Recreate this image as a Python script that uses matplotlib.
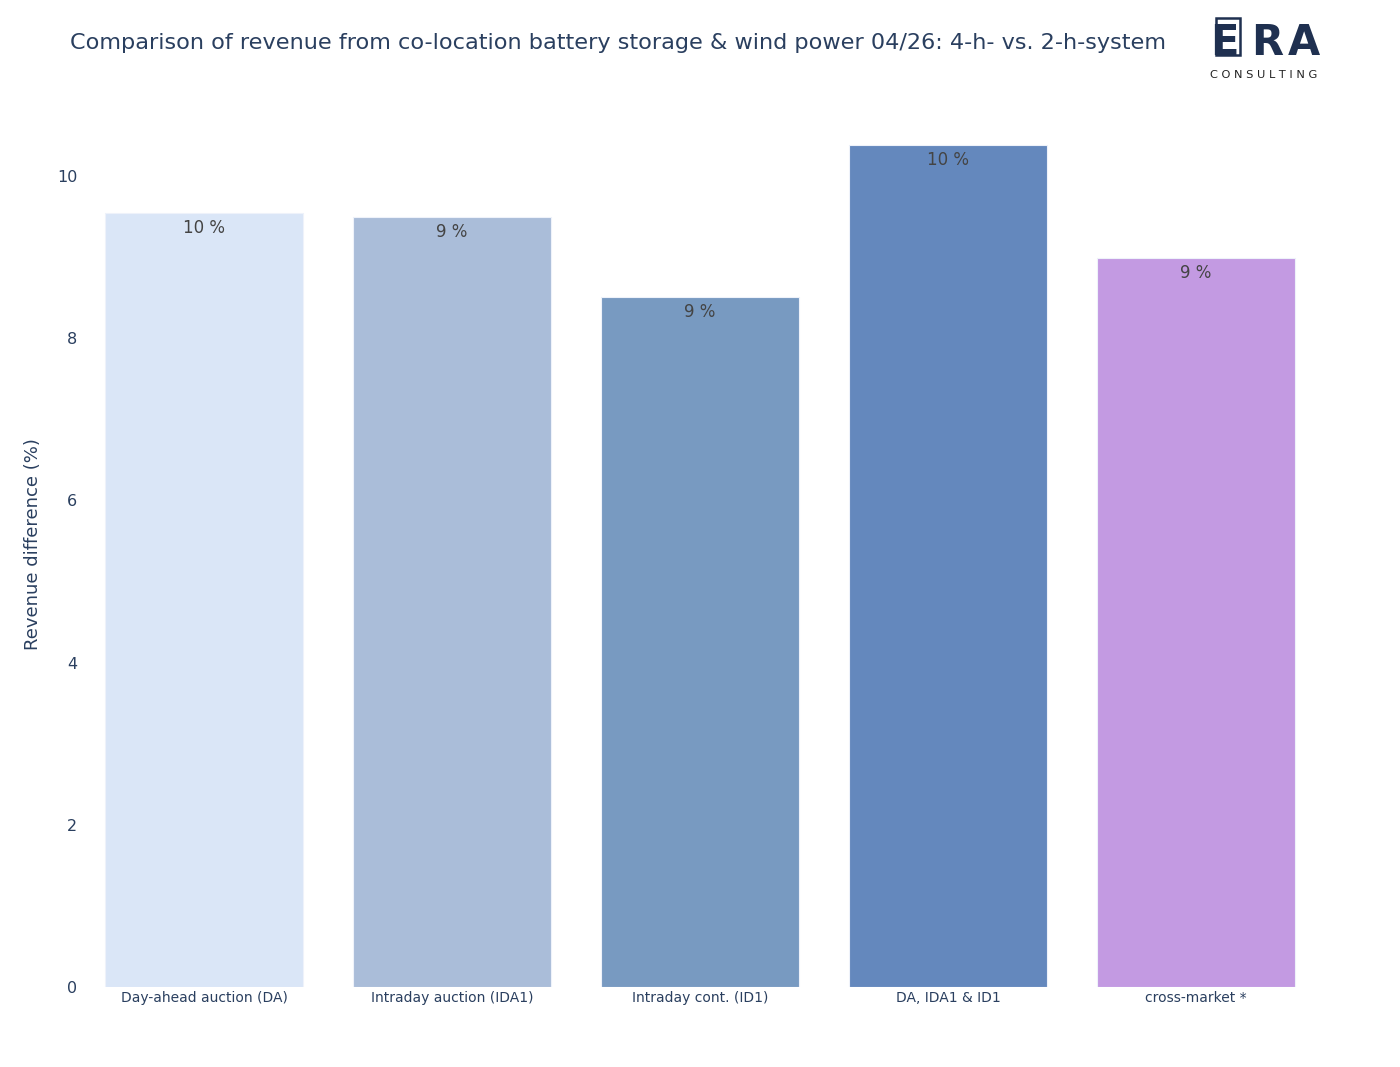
import matplotlib.pyplot as plt
from matplotlib.patches import Rectangle

categories = ["Day-ahead auction (DA)", "Intraday auction (IDA1)", "Intraday cont. (ID1)",
              "DA, IDA1 & ID1", "cross-market *"]
values = [9.54, 9.49, 8.51, 10.38, 8.99]
labels = ["10 %", "9 %", "9 %", "10 %", "9 %"]
colors = ["#dae6f7", "#aabdd9", "#789ac1", "#6488bd", "#c39ae2"]

fig = plt.figure(figsize=(14, 10.67), dpi=100)
ax = fig.add_axes([0.0571, 0.075, 0.8858, 0.8307])

bars = ax.bar(range(len(categories)), values, width=0.8, color=colors,
              edgecolor="#eef2fa", linewidth=0.8)
for b, lab in zip(bars, labels):
    ax.text(b.get_x() + b.get_width() / 2, b.get_height() - 0.07, lab,
            ha="center", va="top", fontsize=12, color="#444444")

ax.set_xlim(-0.5, len(categories) - 0.5)
ax.set_ylim(0, 10.93)
ax.set_yticks([0, 2, 4, 6, 8, 10])
ax.set_xticks(range(len(categories)))
ax.set_xticklabels(categories, fontsize=10, color="#2a3f5f")
ax.tick_params(axis="y", labelsize=11.5, colors="#2a3f5f", length=0, pad=2)
ax.tick_params(axis="x", length=0, pad=3)
for s in ax.spines.values():
    s.set_visible(False)
fig.text(0.0236, 0.49, "Revenue difference (%)", fontsize=13, color="#2a3f5f",
         rotation=90, ha="center", va="center")

fig.text(0.05, 0.96, "Comparison of revenue from co-location battery storage & wind power 04/26: 4-h- vs. 2-h-system",
         fontsize=16.1, color="#2a3f5f", ha="left", va="center")

# logo
navy = "#1f3050"
for ch, x in zip("ERA", [0.8743, 0.9050, 0.9314]):
    fig.text(x, 0.960, ch, fontsize=30, fontweight="bold", color=navy,
             ha="center", va="center")
fig.text(0.9025, 0.930, "C O N S U L T I N G", fontsize=8.2, color="#222222",
         ha="center", va="center")
fig.patches.append(Rectangle((0.8686, 0.9485), 0.0171, 0.0345, transform=fig.transFigure,
                             fill=False, edgecolor=navy, linewidth=1.8))

fig.savefig("out.png", dpi=100)
